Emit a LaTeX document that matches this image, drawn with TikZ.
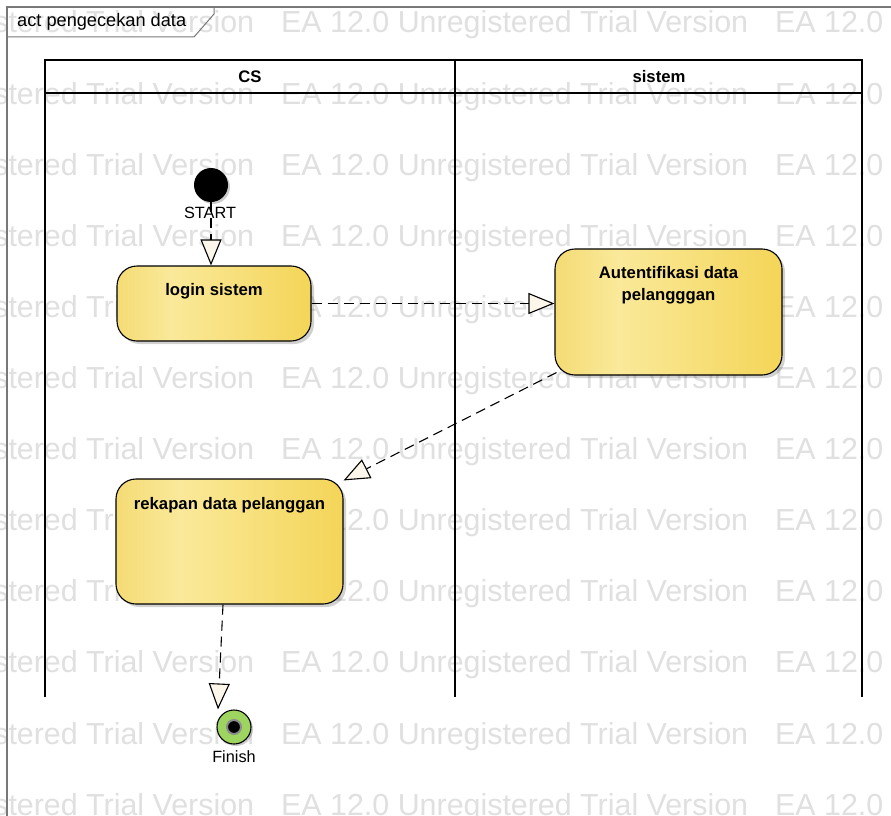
\documentclass[tikz,border=0pt]{standalone}
\usepackage{fontspec}
\setmainfont{Liberation Sans}
\usetikzlibrary{arrows.meta,shadows,calc}
\definecolor{wmgray}{RGB}{224,224,224}
\definecolor{yA}{RGB}{244,219,116}
\definecolor{yB}{RGB}{250,233,154}
\definecolor{yC}{RGB}{244,213,88}
\definecolor{arrfill}{RGB}{253,246,234}
\definecolor{fingreen}{RGB}{158,212,96}
\definecolor{framegray}{RGB}{120,120,120}
\pgfdeclarehorizontalshading{eagrad}{100bp}{color(0bp)=(yA); color(25bp)=(yA); color(39bp)=(yB); color(75bp)=(yC); color(100bp)=(yC)}
\tikzset{
  act/.style={draw=black, line width=1.1pt, rounded corners=20pt, shade, shading=eagrad,
    drop shadow={shadow xshift=3pt, shadow yshift=-3pt, fill=black, opacity=0.18}, inner sep=0pt},
  acttext/.style={font=\bfseries\fontsize{16.7}{22}\selectfont, align=center, inner sep=0pt},
  lbltext/.style={font=\fontsize{16.3}{19}\selectfont, inner sep=0pt},
  headtext/.style={font=\bfseries\fontsize{16.7}{20}\selectfont, inner sep=0pt},
  flow/.style={draw=black, line width=1.1pt, dash pattern=on 10pt off 6pt,
    -{Triangle[length=26pt,width=21pt,fill=arrfill,line width=1.1pt]}},
  lane/.style={line width=1.8pt, draw=black},
  wm/.style={font=\fontsize{30.4}{36}\selectfont, text=wmgray, anchor=base west, inner sep=0pt}
}
\begin{document}
\begin{tikzpicture}[x=1pt,y=-1pt]
\useasboundingbox (0,0) rectangle (891,816);
\clip (0,0) rectangle (891,816);
\fill[white] (0,0) rectangle (891,816);
% watermark
\foreach \r in {0,...,11} {
  \foreach \c/\xx in {0/-213,1/281,2/775} {
    \node[wm] (wm-\r-\c) at (\xx,{33+71.1*\r}) {EA 12.0 Unregistered Trial Version};
  }
}
% frame
\draw[framegray, line width=1.2pt] (7,816) -- (7,7) -- (891,7);
\draw[framegray, line width=1pt] (7,37) -- (194,37) -- (214,14) -- (214,7);
\node[font=\fontsize{18.2}{20}\selectfont, anchor=west, inner sep=0pt] (title) at (17,22) {act pengecekan data};
% swimlanes
\draw[lane] (45,697) -- (45,60) -- (862,60) -- (862,697);
\draw[lane] (45,93) -- (862,93);
\draw[lane] (455,60) -- (455,697);
\node[headtext] (hcs) at (250,77) {CS};
\node[headtext] (hsis) at (659,77) {sistem};
% start
\node[circle, fill=black, minimum size=34pt, inner sep=0pt,
  drop shadow={shadow xshift=2pt, shadow yshift=-2pt, fill=black, opacity=0.2}] (start) at (211,185) {};
% actions
\node[act, minimum width=194pt, minimum height=75pt] (login) at (214,303.5) {};
\node[acttext] (loginT) at ($(login.north)+(0,26)$) {login sistem};
\node[act, minimum width=227pt, minimum height=126pt] (auth) at (668.5,312) {};
\node[acttext] (authT) at ($(auth.north)+(0,37)$) {Autentifikasi data\\pelangggan};
\node[act, minimum width=227pt, minimum height=125pt] (rek) at (229.5,541.5) {};
\node[acttext] (rekT) at ($(rek.north)+(0,27)$) {rekapan data pelanggan};
% finish
\node[circle, draw=black, line width=1.1pt, fill=fingreen, minimum size=34pt, inner sep=0pt,
  drop shadow={shadow xshift=2pt, shadow yshift=-2pt, fill=black, opacity=0.2}] (fin) at (234,727) {};
\node[circle, fill=black, draw=black!45, line width=2pt, minimum size=14pt, inner sep=0pt] (finin) at (fin) {};
% edges
\draw[flow] (start.south) -- (start.south |- login.north);
\draw[flow] (login.east) -- (login.east -| auth.west);
\draw[flow] ([xshift=2pt,yshift=3pt]auth.south west) -- ([yshift=-2pt]rek.north east);
\draw[flow] ([xshift=-6.5pt]rek.south) -- ([xshift=-16pt]fin.north);
% labels
\node[lbltext] (startL) at (210,213) {START};
\node[lbltext] (finL) at (234,757) {Finish};
\end{tikzpicture}
\end{document}
